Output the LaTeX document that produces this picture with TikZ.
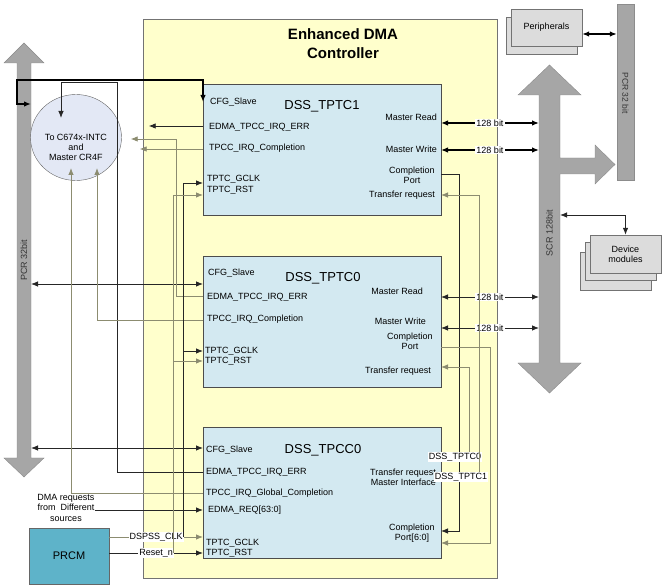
\documentclass[tikz,border=0pt]{standalone}
\usepackage{fontspec}
\setmainfont{Liberation Sans}
\usetikzlibrary{shapes,arrows,arrows.meta}
\definecolor{edmayel}{HTML}{FFFFCC}
\definecolor{tcblue}{HTML}{D3E9F1}
\definecolor{intcfill}{HTML}{E3E8F5}
\definecolor{busgray}{HTML}{A6A6A6}
\definecolor{prcmteal}{HTML}{5EB3C9}
\definecolor{modgray}{HTML}{DCDCDC}
\definecolor{wiregray}{HTML}{8C8C70}

\begin{document}
\begin{tikzpicture}[x=1pt,y=-1pt,>={Latex[length=7pt,width=5.5pt]},font=\fontsize{9}{10}\selectfont]
\tikzstyle{edmabox}=[draw=black!55,fill=edmayel,minimum width=354pt,minimum height=559pt,inner sep=0pt]
\tikzstyle{tcbox}=[draw=black!70,fill=tcblue,minimum width=238pt,minimum height=131pt,inner sep=0pt]
\tikzstyle{tctitle}=[font=\fontsize{13}{15}\selectfont]
\tikzstyle{port}=[inner sep=0pt,anchor=west]
\tikzstyle{rport}=[inner sep=0pt,anchor=east,align=right]
\tikzstyle{wire}=[draw=black!85,line width=0.8pt]
\tikzstyle{gwire}=[draw=wiregray,line width=0.8pt]
\tikzstyle{cfgwire}=[draw=black,line width=1.6pt]
\tikzstyle{buswire}=[draw=black,line width=1.3pt]
\tikzstyle{bus}=[draw=black!45,fill=busgray]
\tikzstyle{buslbl}=[inner sep=0pt,text=black!80]
\tikzstyle{modbox}=[draw=black!55,fill=modgray,minimum width=71pt,minimum height=37pt,inner sep=0pt]
\tikzstyle{lbl}=[fill=white,inner sep=1pt]
\useasboundingbox (0,0) rectangle (665,588);

% EDMA frame and the three blocks
\node[edmabox] (edma) at (320,298.5) {};
\node[font=\bfseries\fontsize{15}{19}\selectfont,align=center] (edmatitle) at (343,43.5) {Enhanced DMA\\Controller};
\node[tcbox] (t1) at (322,150) {};
\node[tcbox] (t0) at (322,321.5) {};
\node[tcbox] (cc) at (322,492.5) {};
\node[tctitle] (t1name) at (322,106) {DSS\_TPTC1};
\node[tctitle] (t0name) at (323,278) {DSS\_TPTC0};
\node[tctitle] (ccname) at (323,450) {DSS\_TPCC0};

% DSS_TPTC1 ports
\node[port] (t1cfgl) at (210,102) {CFG\_Slave};
\node[port] (t1errl) at (209,127) {EDMA\_TPCC\_IRQ\_ERR};
\node[port] (t1cmpl) at (209,148) {TPCC\_IRQ\_Completion};
\node[port] (t1gclkl) at (207,179) {TPTC\_GCLK};
\node[port] (t1rstl) at (207,190) {TPTC\_RST};
\node[rport] (t1rdl) at (437,117) {Master Read};
\node[rport] (t1wrl) at (437,149) {Master Write};
\node[align=center,inner sep=0pt] (t1cpl) at (412,175) {Completion\\Port};
\node[rport] (t1trl) at (435,195) {Transfer request};

% DSS_TPTC0 ports
\node[port] (t0cfgl) at (208,273) {CFG\_Slave};
\node[port] (t0errl) at (207,297) {EDMA\_TPCC\_IRQ\_ERR};
\node[port] (t0cmpl) at (207,319) {TPCC\_IRQ\_Completion};
\node[port] (t0gclkl) at (205,351) {TPTC\_GCLK};
\node[port] (t0rstl) at (205,361) {TPTC\_RST};
\node[rport] (t0rdl) at (423,291) {Master Read};
\node[rport] (t0wrl) at (426,321) {Master Write};
\node[align=center,inner sep=0pt] (t0cpl) at (410,341.5) {Completion\\Port};
\node[rport] (t0trl) at (431,371) {Transfer request};

% DSS_TPCC0 ports
\node[port] (cccfgl) at (206,450) {CFG\_Slave};
\node[port] (ccerrl) at (206,472) {EDMA\_TPCC\_IRQ\_ERR};
\node[port] (ccgcmpl) at (206,493) {TPCC\_IRQ\_Global\_Completion};
\node[port] (ccreql) at (208,510) {EDMA\_REQ[63:0]};
\node[port] (ccgclkl) at (206,543) {TPTC\_GCLK};
\node[port] (ccrstl) at (206,553) {TPTC\_RST};
\node[rport] (cctrl) at (436,477.5) {Transfer request\\Master Interface};
\node[align=center,inner sep=0pt] (cccpl) at (412,533) {Completion\\Port[6:0]};

% port points on the block edges
\coordinate (t1cfg) at (203,102);
\coordinate (t1err) at (203,126);
\coordinate (t1cmp) at (203,149);
\coordinate (t1gclk) at (203,183);
\coordinate (t1rst) at (203,195);
\coordinate (t1rd) at (441,123);
\coordinate (t1wr) at (441,150);
\coordinate (t1cp) at (441,174);
\coordinate (t1tr) at (441,195);
\coordinate (t0cfg) at (203,284);
\coordinate (t0err) at (203,296);
\coordinate (t0cmp) at (203,320);
\coordinate (t0gclk) at (203,351);
\coordinate (t0rst) at (203,361);
\coordinate (t0rd) at (441,297);
\coordinate (t0wr) at (441,328);
\coordinate (t0cp) at (441,347);
\coordinate (t0tr) at (441,367);
\coordinate (cccfg) at (203,448);
\coordinate (ccerr) at (203,472);
\coordinate (ccgcmp) at (203,493);
\coordinate (ccreq) at (203,510);
\coordinate (ccgclk) at (203,537);
\coordinate (ccrst) at (203,553);
\coordinate (cccp) at (441,531);
\coordinate (cccp2) at (441,543);

% buses
\filldraw[bus] (17,63) -- (4,63) -- (24,43) -- (44,63) -- (31,63) -- (31,458) -- (44,458) -- (24,477) -- (4,458) -- (17,458) -- cycle;
\node[buslbl,rotate=90] (pcrl) at (24,260) {PCR 32bit};
\filldraw[bus] (539,95) -- (518,95) -- (549.5,65) -- (581,95) -- (560,95) -- (560,158) -- (595,158) -- (595,145) -- (615,164.5) -- (595,184) -- (595,174) -- (560,174) -- (560,363) -- (581,363) -- (549.5,393) -- (518,363) -- (539,363) -- cycle;
\node[buslbl,rotate=90] (scrl) at (549.5,233) {SCR 128bit};
\node[bus,minimum width=17pt,minimum height=176pt,inner sep=0pt] (pcr2) at (625.5,92) {};
\node[buslbl,rotate=-90,font=\fontsize{8.5}{10}\selectfont] (pcr2l) at (625.5,93) {PCR 32 bit};
\coordinate (pcr) at (31,0);
\coordinate (scr) at (539,0);
\coordinate (scrR) at (560,215);

% peripherals and device modules
\node[modbox] (perfb) at (541.5,35.5) {};
\node[modbox] (perf) at (546.5,27.5) {Peripherals};
\node[modbox,minimum height=38pt] (devc) at (615.5,271) {};
\node[modbox,minimum height=38pt] (devb) at (620.5,261) {};
\node[modbox,minimum height=38pt,align=center] (dev) at (625.5,254) {Device\\modules};

% interrupt controller, PRCM, DMA request sources
\node[ellipse,draw=black!60,fill=intcfill,minimum width=91pt,minimum height=86pt,inner sep=0pt] (intc) at (76,137.5) {};
\node[align=center,inner sep=0pt] (intct) at (76,147) {To C674x-INTC\\and\\Master CR4F};
\node[draw=black!60,fill=prcmteal,minimum width=80pt,minimum height=56pt,font=\fontsize{11}{13}\selectfont] (prcm) at (69,556) {PRCM};
\node[align=center,inner sep=0pt,font=\fontsize{9}{10.5}\selectfont] (dmareq) at (66,507.5) {DMA requests\\from\ \ Different\\sources};
\coordinate (errtop) at (117,82);
\coordinate (intcN) at (61,118);
\coordinate (intcS1) at (71,168);
\coordinate (intcS2) at (97,168);
\coordinate (t0errup) at (176,139);
\coordinate (pcrjoin) at (17,104);
\coordinate (cfgtop) at (203,80);
\coordinate (gclkbus) at (183,537);
\coordinate (rstbus) at (173,553);
\coordinate (cp1) at (459,531);
\coordinate (cp0) at (490,543);

% config and interrupt wiring
\draw[cfgwire,<->] (pcr |- pcrjoin) -- (pcrjoin) |- (cfgtop) -- (t1cfg);
\draw[wire,<->] (pcr |- t0cfg) -- (t0cfg);
\draw[wire,<->] (pcr |- cccfg) -- (cccfg);
\draw[wire,->,shorten >=27pt] (t1err) -- (intc.east |- t1err);
\draw[gwire,->,shorten >=18pt] (t1cmp) -- (intc.east |- t1cmp);
\draw[gwire,->,shorten >=9pt] (t0err) -| (t0errup) -- (intc.east |- t0errup);
\draw[wire,->] (ccerr) -| (errtop) -| (intcN);
\draw[gwire,->] (t0cmp) -| (intcS2);
\draw[gwire,->] (ccgcmp) -| (intcS1);
\draw[wire,->] (dmareq.east |- ccreq) -- (ccreq);

% clocks and resets
\draw[gwire,->] (prcm.east |- ccgclk) -- node[lbl]{DSPSS\_CLK} (ccgclk);
\draw[wire,->] (prcm.east |- ccrst) -- node[lbl]{Reset\_n} (ccrst);
\draw[wire,->] (gclkbus) |- (t1gclk);
\draw[wire,->] (gclkbus |- t0gclk) -- (t0gclk);
\draw[gwire,->] (rstbus) |- (t1rst);
\draw[gwire,->] (rstbus |- t0rst) -- (t0rst);

% data paths to the SCR
\draw[buswire,<->] (t1rd) -- node[lbl]{128 bit} (scr |- t1rd);
\draw[buswire,<->] (t1wr) -- node[lbl]{128 bit} (scr |- t1wr);
\draw[wire,<->] (t0rd) -- node[lbl]{128 bit} (scr |- t0rd);
\draw[wire,<->] (t0wr) -- node[lbl]{128 bit} (scr |- t0wr);
\draw[buswire,<->] ([yshift=-6.5pt]perf.east) -- (pcr2.west |- 0,34);
\draw[wire,<->] (scrR) -| (dev.north);

% completion and transfer request paths
\draw[wire,->] (t1cp) -| (cp1) -- (cccp);
\draw[gwire,->] (t0cp) -| (cp0) -- (cccp2);
\node[lbl] (tc0lbl) at (455,457) {DSS\_TPTC0};
\node[lbl] (tc1lbl) at (461,477) {DSS\_TPTC1};
\draw[gwire,->] ([xshift=14pt]tc0lbl.north) |- (t0tr);
\draw[gwire,->] ([xshift=18pt]tc1lbl.north) |- (t1tr);
\end{tikzpicture}
\end{document}
